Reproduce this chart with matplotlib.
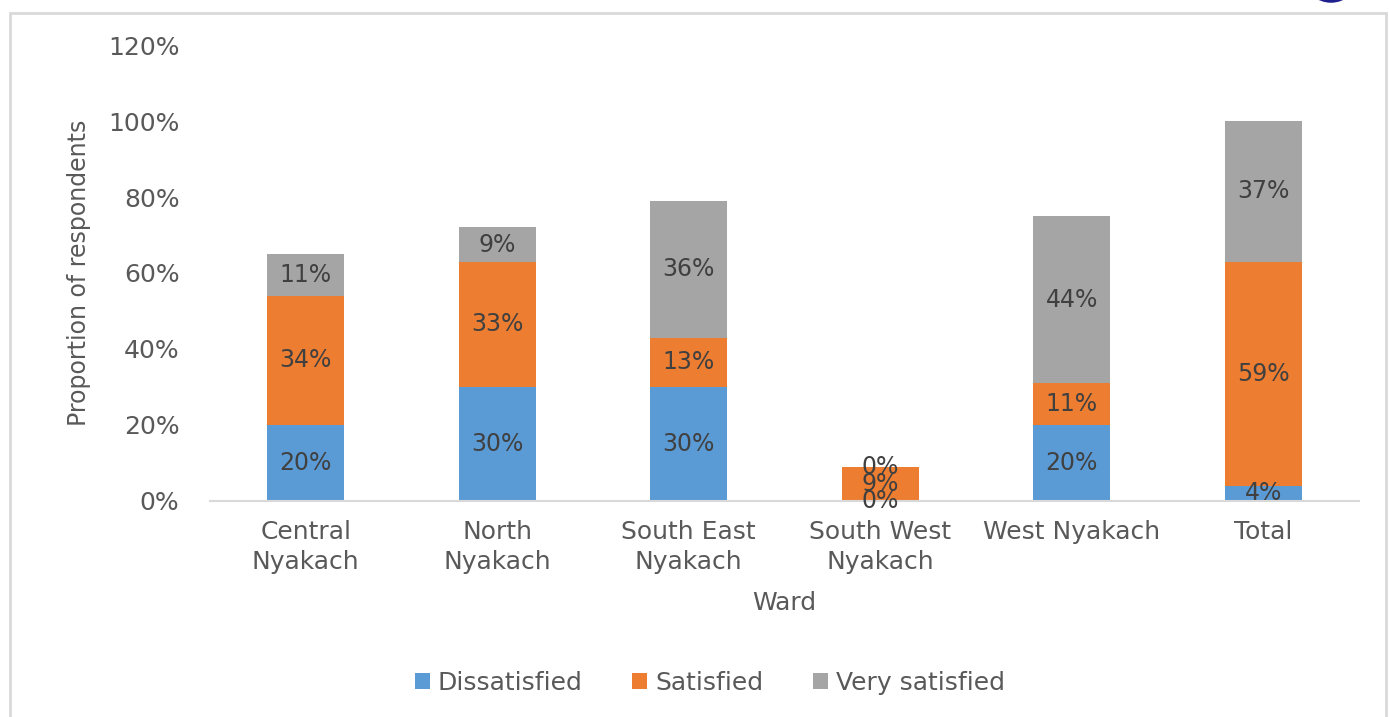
import matplotlib.pyplot as plt
import numpy as np
from matplotlib.patches import Rectangle, Ellipse

wards = ["Central\nNyakach", "North\nNyakach", "South East\nNyakach",
         "South West\nNyakach", "West Nyakach", "Total"]
dissatisfied = [20, 30, 30, 0, 20, 4]
satisfied = [34, 33, 13, 9, 11, 59]
very_satisfied = [11, 9, 36, 0, 44, 37]

series = [
    ("Dissatisfied", dissatisfied, "#5B9BD5"),
    ("Satisfied", satisfied, "#ED7D31"),
    ("Very satisfied", very_satisfied, "#A5A5A5"),
]

plt.rcParams["font.family"] = ["DejaVu Sans"]
TXT = "#595959"

fig = plt.figure(figsize=(13.89, 7.17), dpi=100)
ax = fig.add_axes([0.1512, 0.3013, 0.8272, 0.6359])

x = np.arange(len(wards))
bottom = np.zeros(len(wards))
for name, vals, color in series:
    v = np.array(vals) / 100
    ax.bar(x, v, 0.4, bottom=bottom, color=color, label=name, zorder=2)
    for xi, b, h, raw in zip(x, bottom, v, vals):
        ax.text(xi, b + h / 2, f"{raw}%", ha="center", va="center",
                fontsize=17, color="#404040", zorder=3)
    bottom += v

ax.set_xlim(-0.5, len(wards) - 0.5)
ax.set_ylim(0, 1.2)
ticks = np.arange(0, 1.21, 0.2)
ax.set_yticks(ticks)
ax.set_yticklabels([f"{int(round(t * 100))}%" for t in ticks])
ax.set_xticks(x)
ax.set_xticklabels(wards, linespacing=1.3)
ax.tick_params(axis="both", length=0, labelsize=18, colors=TXT)
ax.tick_params(axis="y", pad=22)
ax.tick_params(axis="x", pad=14)
for s in ["top", "right", "left"]:
    ax.spines[s].set_visible(False)
ax.spines["bottom"].set_color("#D9D9D9")
ax.spines["bottom"].set_linewidth(1.5)

ax.set_ylabel("Proportion of respondents", fontsize=17, color=TXT, labelpad=12)
ax.set_xlabel("Ward", fontsize=18, color=TXT, labelpad=12)

fig.legend(loc="center", bbox_to_anchor=(0.511, 0.048), ncol=3, frameon=False,
           fontsize=18, handlelength=0.6, handleheight=0.6, handletextpad=0.3,
           columnspacing=2.0, labelcolor=TXT)

fig.patches.append(Rectangle((10 / 1389, -0.01), 1376 / 1389, 1 - 13 / 717 + 0.01,
                             transform=fig.transFigure, fill=False,
                             edgecolor="#D9D9D9", linewidth=2))
fig.patches.append(Ellipse((1331 / 1389, 1 + 22 / 717), 50 / 1389, 46 / 717,
                           transform=fig.transFigure, fill=False,
                           edgecolor="#1F1F8F", linewidth=2.5))

fig.savefig("out.png", dpi=100)
